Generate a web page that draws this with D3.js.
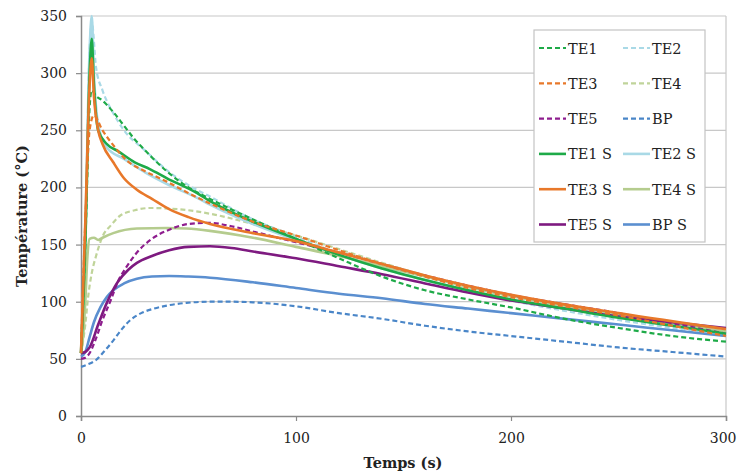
<!DOCTYPE html>
<html><head><meta charset="utf-8">
<script src="https://cdn.jsdelivr.net/npm/d3@7/dist/d3.min.js"></script>
<style>body{margin:0;background:#fff}svg{display:block}</style>
</head><body><svg id="c" width="737" height="472"></svg>
<script>
const yTicks = [0,50,100,150,200,250,300,350];
const xTicks = [0,100,200,300];
const xLabel = "Temps (s)";
const yLabel = "Température (°C)";

const TE1 = [[0,55],[2,150],[4,270],[5,285],[7,280],[10,276],[15,266],[20,254],[25,242],[30,232],[40,214],[50,200],[60,190],[80,172],[100,155],[120,138],[140,122],[160,110],[180,102],[200,95],[225,85],[250,77],[275,70],[300,65]];
const TE2 = [[0,55],[2,160],[4,320],[5,345],[7,305],[10,285],[15,265],[20,250],[30,232],[40,215],[50,202],[60,192],[80,172],[100,157],[120,142],[140,130],[160,119],[180,110],[200,101],[225,92],[250,84],[275,77],[300,70]];
const TE3 = [[0,55],[2,170],[4,250],[6,263],[10,250],[15,237],[21,224],[30,214],[40,205],[50,195],[60,186],[80,170],[100,158],[120,145],[140,133],[160,122],[180,112],[200,104],[225,96],[250,88],[275,79],[300,70]];
const TE4 = [[0,55],[2,80],[3.3,104],[5,125],[7,140],[10,157],[14,167],[18,175],[25,180],[32,182],[45,181],[60,177],[80,168],[100,158],[120,146],[140,134],[160,123],[180,113],[200,105],[250,88],[300,73]];
const TE5 = [[0,50],[2,51],[4,55],[7,68],[10,84],[14,102],[17,117],[21,130],[26,143],[33,155],[41,163],[50,168],[60,169],[70,166],[83,160],[100,152],[120,143],[140,133],[160,123],[180,114],[200,106],[250,90],[300,72]];
const BP = [[0,43],[3,45],[7,49],[11,57],[15,66],[19,76],[23,84],[28,90],[34,94],[41,97],[49,99],[60,100],[70,100],[80,99.5],[100,96],[120,90],[140,85],[160,79],[180,74],[200,70],[225,65],[250,60],[275,56],[300,52]];
const TE1S = [[0,55],[2,150],[4,300],[5,330],[6,290],[8,250],[12,238],[17,232],[25,222],[32,216],[40,208],[54,195],[60,188],[80,170],[100,155],[120,141],[140,129],[160,119],[180,110],[200,102],[225,94],[250,86],[275,79],[300,72]];
const TE2S = [[0,55],[2,160],[4,320],[5,350],[6,300],[8,255],[12,235],[20,225],[30,213],[40,203],[55,190],[60,185],[80,168],[100,154],[120,141],[140,129],[160,119],[180,110],[200,102],[250,87],[300,73]];
const TE3S = [[0,55],[2,170],[4,290],[5,313],[6,280],[8,250],[10,238],[15,222],[20,208],[26,198],[33,190],[41,181],[50,174],[60,168],[80,160],[100,153],[120,143],[140,133],[160,123],[180,114],[200,106],[250,90],[300,76]];
const TE4S = [[0,55],[1,70],[2,100],[3,140],[4,155],[6,156],[8,154],[10,156],[15,160],[26,164],[40,164.5],[49,164],[60,162],[80,156],[100,148],[120,140],[140,131],[160,122],[180,113],[200,105],[250,89],[300,74]];
const TE5S = [[0,55],[2,56],[4,60],[8,80],[12,99],[17,117],[22,128],[26,134],[33,140],[41,145],[50,148],[60,148.5],[70,147],[80,144],[100,138],[120,131],[140,124],[160,116],[180,108],[200,101],[225,94],[250,87],[275,82],[300,77]];
const BPS = [[0,52],[2,56],[4,69],[6,82],[9,95],[12,104],[15,110],[20,116],[26,120],[33,122],[41,122.5],[50,122],[60,121],[80,117],[100,112],[120,107],[140,103],[160,98],[180,94],[200,90],[225,85],[250,80],[275,75],[300,70]];

const series = [
  {name:"TE1", data:TE1, color:"#1eaa48", dash:true},
  {name:"TE2", data:TE2, color:"#a9d9e6", dash:true},
  {name:"TE3", data:TE3, color:"#e8782a", dash:true},
  {name:"TE4", data:TE4, color:"#c0d49a", dash:true},
  {name:"TE5", data:TE5, color:"#8e1d8e", dash:true},
  {name:"BP", data:BP, color:"#4a86c8", dash:true},
  {name:"TE1 S", data:TE1S, color:"#1eaa48", dash:false},
  {name:"TE2 S", data:TE2S, color:"#a9d9e6", dash:false},
  {name:"TE3 S", data:TE3S, color:"#e8782a", dash:false},
  {name:"TE4 S", data:TE4S, color:"#b5cc8e", dash:false},
  {name:"TE5 S", data:TE5S, color:"#7e1a80", dash:false},
  {name:"BP S", data:BPS, color:"#5b8fd0", dash:false}
];

const FONT = "'DejaVu Serif', serif";
const svg = d3.select("#c");
const x = d3.scaleLinear().domain([0,300]).range([81,726]);
const y = d3.scaleLinear().domain([0,350]).range([416,16]);

// grid
svg.append("g").selectAll("line").data(yTicks.filter(d=>d>0)).join("line")
  .attr("x1",81).attr("x2",726).attr("y1",d=>y(d)).attr("y2",d=>y(d))
  .attr("stroke","#c8c8c8").attr("stroke-width",1.2);
svg.append("line").attr("x1",726).attr("x2",726).attr("y1",y(350)).attr("y2",y(0))
  .attr("stroke","#c8c8c8").attr("stroke-width",1.2);

// axes
const yAxis = d3.axisLeft(y).tickValues(yTicks).tickSize(5).tickPadding(9);
const gy = svg.append("g").attr("transform","translate(81,0)").call(yAxis);
const xAxis = d3.axisBottom(x).tickValues(xTicks).tickSize(5).tickPadding(12);
const gx = svg.append("g").attr("transform","translate(0,416)").call(xAxis);
[gx,gy].forEach(g=>{
  g.attr("font-family",FONT);
  g.select(".domain").attr("stroke","#8a8a8a").attr("stroke-width",1.5);
  g.selectAll(".tick line").attr("stroke","#8a8a8a").attr("stroke-width",1.2);
  g.selectAll("text").attr("font-size",14).attr("fill","#222").attr("font-family",FONT);
});
// keep the last x tick label inside the window
gx.selectAll(".tick text").filter(d=>d===300).attr("text-anchor","end").attr("x",736-x(300));

// lines
const line = d3.line().x(d=>x(d[0])).y(d=>y(d[1])).curve(d3.curveMonotoneX);
const order = [1,3,7,9,11,5,4,10,0,6,2,8];
svg.append("g").selectAll("path").data(order.map(i=>series[i])).join("path")
  .attr("d",d=>line(d.data)).attr("fill","none")
  .attr("stroke",d=>d.color)
  .attr("stroke-width",d=>d.dash?2.2:2.6)
  .attr("stroke-dasharray",d=>d.dash?"5,3":null);

// legend
const lg = svg.append("g");
lg.append("rect").attr("x",534).attr("y",30).attr("width",171).attr("height",212)
  .attr("fill","#fff").attr("stroke","#c4c4c4").attr("stroke-width",1.2);
series.forEach((s,i)=>{
  const row = Math.floor(i/2), col = i%2;
  const yy = 48 + row*35.3;
  const x0 = col===0 ? 539 : 623;
  lg.append("line").attr("x1",x0).attr("x2",x0+27).attr("y1",yy).attr("y2",yy)
    .attr("stroke",s.color).attr("stroke-width",s.dash?2.2:2.6)
    .attr("stroke-dasharray",s.dash?"5,3":null);
  lg.append("text").attr("x",x0+29).attr("y",yy+5.5).attr("font-size",14.5)
    .attr("font-family",FONT).attr("fill","#222").text(s.name);
});

// labels
svg.append("text").attr("x",403).attr("y",468).attr("text-anchor","middle").attr("font-family",FONT)
  .attr("font-size",14.5).attr("font-weight","bold").attr("fill","#222").text(xLabel);
svg.append("text").attr("transform","translate(27,216) rotate(-90)").attr("text-anchor","middle").attr("font-family",FONT)
  .attr("font-size",14.5).attr("font-weight","bold").attr("fill","#222").text(yLabel);
</script></body></html>
